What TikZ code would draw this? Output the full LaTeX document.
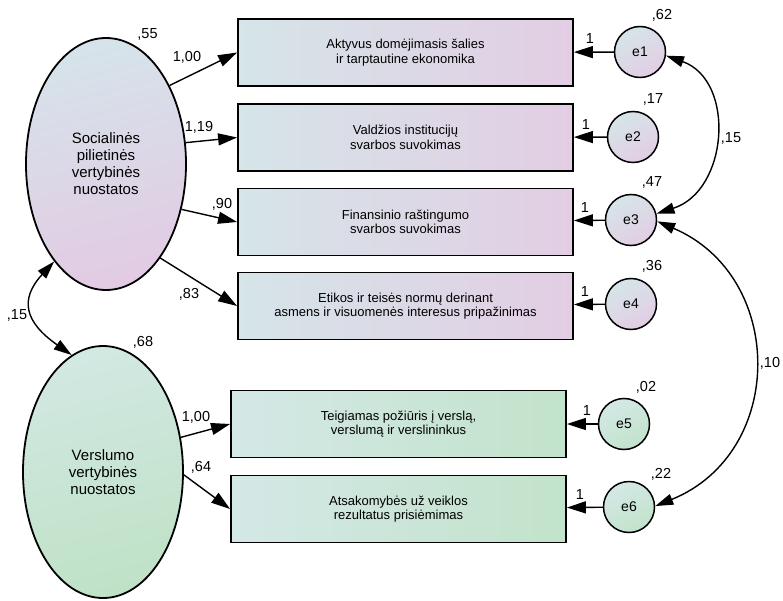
\documentclass[tikz,border=0pt]{standalone}
\usepackage{fontspec}
\setmainfont{Liberation Sans}
\usetikzlibrary{shapes.geometric,arrows.meta}
\definecolor{socL}{HTML}{D5E5E8}
\definecolor{socR}{HTML}{E3CDE4}
\definecolor{verL}{HTML}{D4E8E6}
\definecolor{verR}{HTML}{C2E3CB}
\definecolor{socTop}{HTML}{D6E3EA}
\definecolor{socBot}{HTML}{E2CBE3}
\definecolor{verTop}{HTML}{D2E8E2}
\definecolor{verBot}{HTML}{BFE2C7}

\begin{document}
\begin{tikzpicture}[x=1pt, y=-1pt,
  latent/.style={ellipse, draw, line width=1.8pt, minimum width=160pt, minimum height=252pt,
    inner sep=0pt, align=center, font=\fontsize{15}{17}\selectfont},
  item/.style={rectangle, draw, line width=1.8pt, minimum width=335pt, minimum height=67pt,
    align=center, font=\fontsize{13}{14.5}\selectfont},
  err/.style={circle, draw, line width=1.5pt, minimum size=51pt, inner sep=0pt,
    font=\fontsize{14}{16}\selectfont},
  num/.style={inner sep=0pt, font=\fontsize{14.5}{16}\selectfont},
  load/.style={line width=1.4pt, -{Triangle[length=19pt, width=12pt]}},
  cov/.style={line width=1.4pt, {Triangle[length=18pt, width=11pt]}-{Triangle[length=18pt, width=11pt]}}]
  \useasboundingbox (0,0) rectangle (783,601);

  \node[latent, top color=socTop, bottom color=socBot, shading angle=15] (soc) at (106,164)
    {Socialinės\\pilietinės\\vertybinės\\nuostatos};
  \node[latent, top color=verTop, bottom color=verBot, shading angle=15] (ver) at (103,472)
    {Verslumo\\vertybinės\\nuostatos};

  \node[item, left color=socL, right color=socR] (b1) at (405.5,52.5)
    {Aktyvus domėjimasis šalies\\ir tarptautine ekonomika};
  \node[item, left color=socL, right color=socR] (b2) at (405.5,137.5)
    {Valdžios institucijų\\svarbos suvokimas};
  \node[item, left color=socL, right color=socR] (b3) at (405.5,222)
    {Finansinio raštingumo\\svarbos suvokimas};
  \node[item, left color=socL, right color=socR] (b4) at (405.5,306)
    {Etikos ir teisės normų derinant\\asmens ir visuomenės interesus pripažinimas};
  \node[item, left color=verL, right color=verR] (b5) at (398.5,424)
    {Teigiamas požiūris į verslą,\\verslumą ir verslininkus};
  \node[item, left color=verL, right color=verR] (b6) at (398.5,509)
    {Atsakomybės už veiklos\\rezultatus prisiėmimas};

  \node[err, left color=socL, right color=socR, shading angle=30] (e1) at (640,52) {e1};
  \node[err, left color=socL, right color=socR, shading angle=30] (e2) at (633,137) {e2};
  \node[err, left color=socL, right color=socR, shading angle=30] (e3) at (631,220) {e3};
  \node[err, left color=socL, right color=socR, shading angle=30] (e4) at (631,304) {e4};
  \node[err, left color=verL, right color=verR, shading angle=30] (e5) at (624,424) {e5};
  \node[err, left color=verL, right color=verR, shading angle=30] (e6) at (629,507) {e6};

  \draw[load] (soc.51) -- (b1.west);
  \draw[load] (soc.15) -- (b2.west);
  \draw[load] (soc.-31) -- (b3.west);
  \draw[load] (soc.-60) -- (b4.west);
  \draw[load] (ver.24) -- (b5.west);
  \draw[load] (ver.-2) -- (b6.west);

  \draw[load] (e1) -- (b1);
  \draw[load] (e2) -- (b2);
  \draw[load] (e3) -- (b3);
  \draw[load] (e4) -- (b4);
  \draw[load] (e5) -- (b5);
  \draw[load] (e6) -- (b6);

  \draw[cov] (soc.242) .. controls +(-35,38) and +(-47,-33) .. (ver.105);
  \draw[cov] (e1.-8) .. controls +(70,25) and +(72,-23) .. (e3.14);
  \draw[cov] (e3.-3) .. controls +(129,55) and +(131,-53) .. (e6.2);

  \node[num] (vsoc) at (147.5,34) {,55};
  \node[num] (vver) at (143,342) {,68};
  \node[num] (w1) at (187,57) {1,00};
  \node[num] (w2) at (199,127) {1,19};
  \node[num] (w3) at (222,204) {,90};
  \node[num] (w4) at (189,294) {,83};
  \node[num] (w5) at (196,417) {1,00};
  \node[num] (w6) at (201,467) {,64};
  \node[num] (ve1) at (662,15) {,62};
  \node[num] (ve2) at (653,99) {,17};
  \node[num] (ve3) at (652,182) {,47};
  \node[num] (ve4) at (652,266) {,36};
  \node[num] (ve5) at (646,387) {,02};
  \node[num] (ve6) at (661,474) {,22};
  \node[num] (c1) at (17,315) {,15};
  \node[num] (c2) at (731,138) {,15};
  \node[num] (c3) at (770,363) {,10};
  \node[num] (f1) at (590,39) {1};
  \node[num] (f2) at (586,125) {1};
  \node[num] (f3) at (585,208) {1};
  \node[num] (f4) at (585,292) {1};
  \node[num] (f5) at (587,411) {1};
  \node[num] (f6) at (580,495) {1};
\end{tikzpicture}
\end{document}
